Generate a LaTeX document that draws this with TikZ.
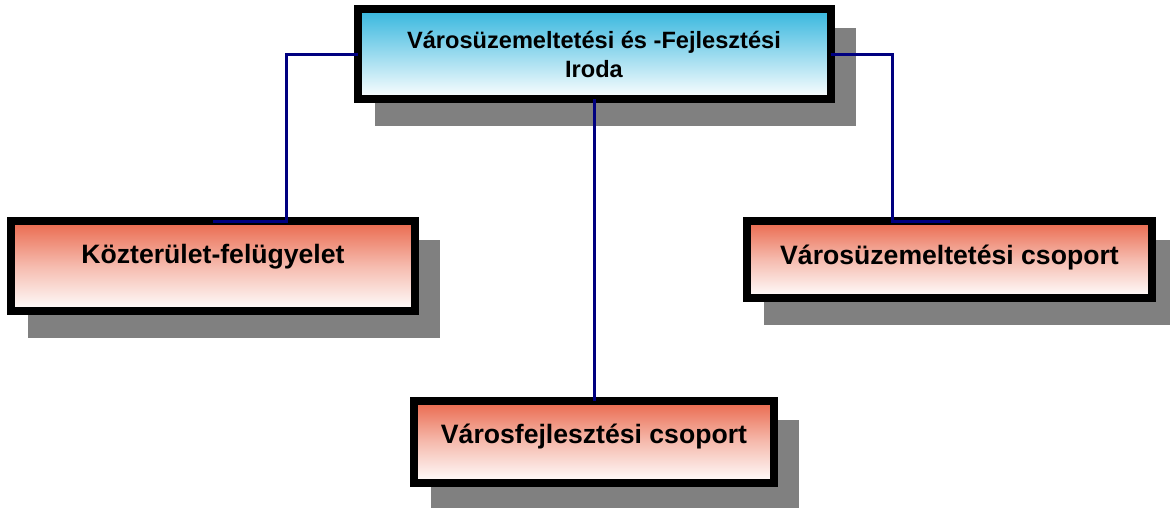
\documentclass[tikz,border=0pt]{standalone}
\usepackage{fontspec}
\setmainfont{Liberation Sans}
\usepackage{tikz}
\usetikzlibrary{shadows}
\definecolor{headblue}{RGB}{52,182,222}
\definecolor{unitred}{RGB}{234,104,76}
\definecolor{shadowgray}{RGB}{128,128,128}
\definecolor{linkblue}{RGB}{0,0,128}
\tikzset{box/.style = {rectangle, draw=black, line width=8pt, outer sep=0pt,
                       inner sep=0pt, align=center, font=\bfseries,
                       drop shadow={shadow xshift=21pt, shadow yshift=-23pt,
                                    fill=shadowgray, draw=shadowgray,
                                    line width=8pt, opacity=1}},
         headbox/.style = {box, top color=headblue, bottom color=white,
                           font=\bfseries\fontsize{23.6}{29}\selectfont},
         unitbox/.style = {box, top color=unitred, bottom color=white,
                           middle color=unitred!45,
                           font=\bfseries\fontsize{26.6}{32}\selectfont,
                           text height=20pt, text depth=12pt},
         link/.style = {draw=linkblue, line width=3pt}}

\begin{document}
\begin{tikzpicture}[x=1pt, y=-1pt]
    \useasboundingbox (0, 0) rectangle (1170, 507);

    \node [headbox, minimum width=473pt, minimum height=90pt] (iroda) at (594, 54)
        {Városüzemeltetési és -Fejlesztési\\Iroda};
    \node [unitbox, minimum width=404pt, minimum height=90pt, text depth=26pt] (kozter) at (213, 266)
        {Közterület-felügyelet};
    \node [unitbox, minimum width=405pt, minimum height=77pt, text depth=11pt] (uzem) at (949.5, 259.5)
        {Városüzemeltetési csoport};
    \node [unitbox, minimum width=360pt, minimum height=82pt, text depth=18pt] (fejl) at (594, 442)
        {Városfejlesztési csoport};

    \coordinate (kbend) at (286, 221);
    \coordinate (ubend) at (892, 221);
    \draw [link] (iroda.west) -| (kbend) -- (kozter.north);
    \draw [link] (iroda.east) -| (ubend) -- (uzem.north);
    \draw [link] (iroda.south) -- (fejl.north);
\end{tikzpicture}
\end{document}
